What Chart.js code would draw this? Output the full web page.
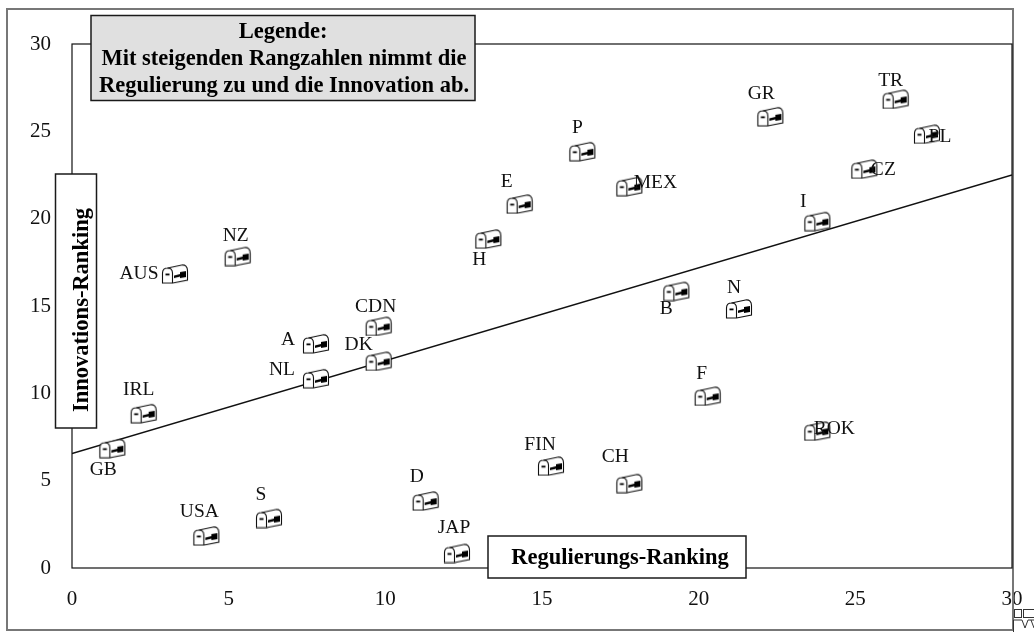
<!DOCTYPE html>
<html>
<head>
<meta charset="utf-8">
<title>Regulierung und Innovation</title>
<script src="https://cdn.jsdelivr.net/npm/chart.js@4"></script>
<style>
  html, body { margin: 0; padding: 0; background: #fff; overflow: hidden; }
  canvas { display: block; }
</style>
</head>
<body>
<canvas id="chart" width="1034" height="632"></canvas>
<script>
const countries = ['AUS','NZ','IRL','GB','USA','S','A','CDN','DK','NL','D','JAP','H','E','P','FIN','MEX','CH','B','F','N','I','ROK','GR','CZ','TR','PL'];
const regulierung = [3,5,2,1,4,6,7.5,9.5,9.5,7.5,11,12,13,14,16,15,17.5,17.5,19,20,21,23.5,23.5,22,25,26,27];
const innovation = [17,18,9,7,2,3,13,14,12,11,4,1,19,21,24,6,22,5,16,10,15,20,8,26,23,27,25];
const trendX = [0, 30];
const trendY = [6.55, 22.5];
const axisTicks = [0, 5, 10, 15, 20, 25, 30];

// label offset from the mailbox, px
const labelOffsets = {
  AUS:[-36,0], NZ:[-2,-21], IRL:[-5,-24], GB:[-9,21], USA:[-7,-24], S:[-8,-24], A:[-28,-4],
  CDN:[-3,-20], DK:[-20,-17], NL:[-34,-9], D:[-9,-24], JAP:[-3,-26], H:[-9,21], E:[-13,-22],
  P:[-5,-24], FIN:[-11,-21], MEX:[26,-4], CH:[-14,-27], B:[-10,17], F:[-6,-22], N:[-5,-21],
  I:[-14,-20], ROK:[17,-2], GR:[-9,-23], CZ:[19,1], TR:[-5,-19], PL:[13,3]
};

const SERIF = '"Liberation Serif", serif';
const MARK_DX = 9, MARK_DY = 3;

// mailbox glyph, the old Excel marker sits a bit off its data point
function mailboxPath(g) {
  g.save();
  g.lineWidth = 1.1;
  g.strokeStyle = '#111';
  g.fillStyle = '#fff';
  g.beginPath();
  g.moveTo(5.5, 3.5);
  g.lineTo(19.5, 0.5);
  g.bezierCurveTo(23.5, 0, 25.5, 2, 25.5, 6);
  g.lineTo(25.5, 15.5);
  g.lineTo(10.5, 18.5);
  g.lineTo(0.5, 18.5);
  g.lineTo(0.5, 8.5);
  g.bezierCurveTo(0.5, 5, 2.5, 3.5, 5.5, 3.5);
  g.closePath();
  g.fill();
  g.stroke();
  g.beginPath();
  g.moveTo(10.5, 18.5);
  g.lineTo(10.5, 8.5);
  g.bezierCurveTo(10.5, 5, 8.5, 3.5, 5.5, 3.5);
  g.stroke();
  g.fillStyle = '#000';
  g.fillRect(3.5, 9, 4, 1.8);
  g.beginPath();
  g.moveTo(12, 11);
  g.lineTo(18, 9.5);
  g.lineTo(18, 7.5);
  g.lineTo(24, 6.5);
  g.lineTo(24, 12.5);
  g.lineTo(18, 13.5);
  g.lineTo(18, 12);
  g.lineTo(12, 13.5);
  g.closePath();
  g.fill();
  g.restore();
}

function mailboxMarker() {
  const c = document.createElement('canvas');
  c.width = 2 * (MARK_DX + 14);
  c.height = 2 * (MARK_DY + 10);
  const g = c.getContext('2d');
  g.translate(c.width / 2 + MARK_DX - 13, c.height / 2 + MARK_DY - 9.5);
  mailboxPath(g);
  return c;
}

function box(ctx, x, y, w, h, fill) {
  ctx.fillStyle = fill;
  ctx.fillRect(x, y, w, h);
  ctx.strokeStyle = '#1a1a1a';
  ctx.lineWidth = 1.5;
  ctx.strokeRect(x, y, w, h);
}

const framePlugin = {
  id: 'frame',
  beforeDatasetsDraw(chart) {
    const { ctx, chartArea: a } = chart;
    ctx.save();
    ctx.strokeStyle = '#777';
    ctx.lineWidth = 2;
    ctx.strokeRect(7, 9, 1006, 621);
    ctx.strokeStyle = '#111';
    ctx.lineWidth = 1.2;
    ctx.strokeRect(a.left, a.top, a.right - a.left, a.bottom - a.top);
    ctx.restore();
  },
  afterDatasetsDraw(chart) {
    const { ctx, scales } = chart;
    ctx.save();
    ctx.fillStyle = '#111';
    ctx.font = '19.5px ' + SERIF;
    ctx.textAlign = 'center';
    ctx.textBaseline = 'middle';
    countries.forEach((name, i) => {
      const o = labelOffsets[name];
      const px = scales.x.getPixelForValue(regulierung[i]) + MARK_DX + o[0];
      const py = scales.y.getPixelForValue(innovation[i]) + MARK_DY + o[1];
      ctx.fillText(name, px, py);
    });

    box(ctx, 91, 15.5, 384, 85, '#e0e0e0');
    box(ctx, 55.5, 174, 41, 254, '#fff');
    box(ctx, 488, 536, 258, 42, '#fff');

    ctx.fillStyle = '#000';
    ctx.font = 'bold 22.5px ' + SERIF;
    ctx.fillText('Legende:', 283, 32);
    ctx.fillText('Mit steigenden Rangzahlen nimmt die', 284, 59);
    ctx.fillText('Regulierung zu und die Innovation ab.', 284, 86);
    ctx.fillText('Regulierungs-Ranking', 620, 558);
    ctx.translate(82, 310);
    ctx.rotate(-Math.PI / 2);
    ctx.fillText('Innovations-Ranking', 0, 0);
    ctx.restore();

    // stray marker in the bottom right corner, cut off by the picture edge
    ctx.save();
    ctx.strokeStyle = '#333';
    ctx.lineWidth = 1;
    ctx.strokeRect(1014.5, 609.5, 7, 8);
    ctx.strokeRect(1023.5, 609.5, 14, 8);
    ctx.beginPath();
    ctx.moveTo(1013.5, 632);
    ctx.lineTo(1013.5, 620);
    ctx.lineTo(1022, 620);
    ctx.lineTo(1025, 628);
    ctx.lineTo(1028, 620);
    ctx.lineTo(1034, 620);
    ctx.moveTo(1031, 620);
    ctx.lineTo(1034, 628);
    ctx.stroke();
    ctx.restore();
  }
};

const tickFont = { family: SERIF, size: 21 };

new Chart(document.getElementById('chart'), {
  type: 'scatter',
  data: {
    datasets: [
      {
        label: 'Trend',
        type: 'line',
        data: trendX.map((x, i) => ({ x, y: trendY[i] })),
        borderColor: '#111',
        borderWidth: 1.4,
        pointRadius: 0,
        fill: false,
        order: 2
      },
      {
        label: 'Länder',
        data: regulierung.map((x, i) => ({ x, y: innovation[i] })),
        pointStyle: mailboxMarker(),
        pointRadius: 12,
        order: 1
      }
    ]
  },
  options: {
    responsive: false,
    animation: false,
    events: [],
    layout: { padding: { top: 44, right: 22, left: 0, bottom: 0 } },
    plugins: { legend: { display: false }, tooltip: { enabled: false } },
    scales: {
      x: {
        type: 'linear',
        min: 0,
        max: 30,
        afterFit(s) { s.height = 64; s.paddingRight = 0; s.paddingLeft = 0; },
        afterBuildTicks(s) { s.ticks = axisTicks.map(value => ({ value })); },
        grid: { display: false },
        border: { display: false },
        ticks: { font: tickFont, color: '#111', padding: 11, maxRotation: 0, autoSkip: false }
      },
      y: {
        type: 'linear',
        min: 0,
        max: 30,
        afterFit(s) { s.width = 72; s.paddingTop = 0; s.paddingBottom = 0; },
        afterBuildTicks(s) { s.ticks = axisTicks.map(value => ({ value })); },
        grid: { display: false },
        border: { display: false },
        ticks: { font: tickFont, color: '#111', padding: 13, autoSkip: false }
      }
    }
  },
  plugins: [framePlugin]
});
</script>
</body>
</html>
